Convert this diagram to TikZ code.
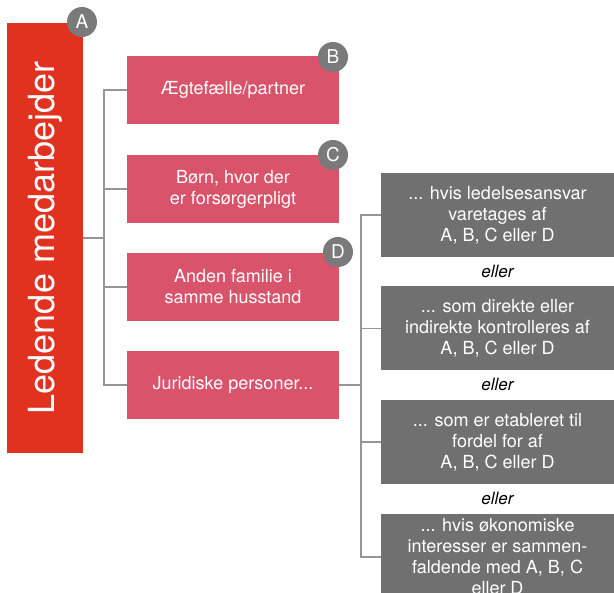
\documentclass[tikz,border=0pt]{standalone}
\usepackage{fontspec}
\setmainfont{TeX Gyre Heros}
\definecolor{redbox}{RGB}{224,50,30}
\definecolor{pinkbox}{RGB}{217,83,107}
\definecolor{graybox}{RGB}{112,112,112}
\definecolor{badge}{RGB}{122,122,122}
\definecolor{linegray}{RGB}{150,150,150}
\begin{document}
\begin{tikzpicture}[x=1pt,y=-1pt,
  pinkstyle/.style={fill=pinkbox,text=white,minimum width=212pt,minimum height=68pt,inner sep=0pt,align=center,font=\fontsize{18}{21}\selectfont},
  graystyle/.style={fill=graybox,text=white,minimum width=233pt,minimum height=84pt,inner sep=0pt,align=center,font=\fontsize{18}{21}\selectfont},
  badgestyle/.style={circle,fill=badge,text=white,minimum size=30pt,inner sep=0pt,font=\fontsize{19}{19}\selectfont},
  conn/.style={draw=linegray,line width=1.3pt},
  ellerstyle/.style={font=\fontsize{17}{17}\selectfont\itshape,inner sep=0pt}]
\useasboundingbox (0,0) rectangle (614,593);
% main red box
\node[fill=redbox,minimum width=76pt,minimum height=430pt,inner sep=0pt] (red) at (45,238) {};
\node[rotate=90,text=white,font=\fontsize{36}{36}\selectfont] (redtxt) at (45,238) {Ledende medarbejder};
% pink boxes
\node[pinkstyle] (B) at (233,90) {Ægtefælle/partner};
\node[pinkstyle] (C) at (233,189) {Børn, hvor der\\er forsørgerpligt};
\node[pinkstyle] (D) at (233,287) {Anden familie i\\samme husstand};
\node[pinkstyle] (J) at (233,385) {Juridiske personer...};
% gray boxes
\node[graystyle] (G1) at (497.5,215) {... hvis ledelsesansvar\\varetages af\\A, B, C eller D};
\node[graystyle] (G2) at (497.5,328.5) {... som direkte eller\\indirekte kontrolleres af\\A, B, C eller D};
\node[graystyle] (G3) at (497.5,442) {... som er etableret til\\fordel for af\\A, B, C eller D};
\node[graystyle,minimum height=86pt] (G4) at (497.5,557) {... hvis økonomiske\\interesser er sammen-\\faldende med A, B, C\\eller D};
% eller labels
\node[ellerstyle] (E1) at (497.5,271) {eller};
\node[ellerstyle] (E2) at (497.5,384.5) {eller};
\node[ellerstyle] (E3) at (497.5,498) {eller};
% connectors
\coordinate (s1) at (104,238);
\draw[conn] (red.east) -- (s1);
\draw[conn] (s1) |- (B.west);
\draw[conn] (s1) |- (C.west);
\draw[conn] (s1) |- (D.west);
\draw[conn] (s1) |- (J.west);
\coordinate (s2) at (361,385);
\draw[conn] (J.east) -- (s2);
\draw[conn] (s2) |- (G1.west);
\draw[conn] (s2) |- (G2.west);
\draw[conn] (s2) |- (G3.west);
\draw[conn] (s2) |- (G4.west);
% badges
\node[badgestyle] (bA) at (82,22) {A};
\node[badgestyle] (bB) at (333,57) {B};
\node[badgestyle] (bC) at (333,155) {C};
\node[badgestyle] (bD) at (338,252) {D};
\end{tikzpicture}
\end{document}
